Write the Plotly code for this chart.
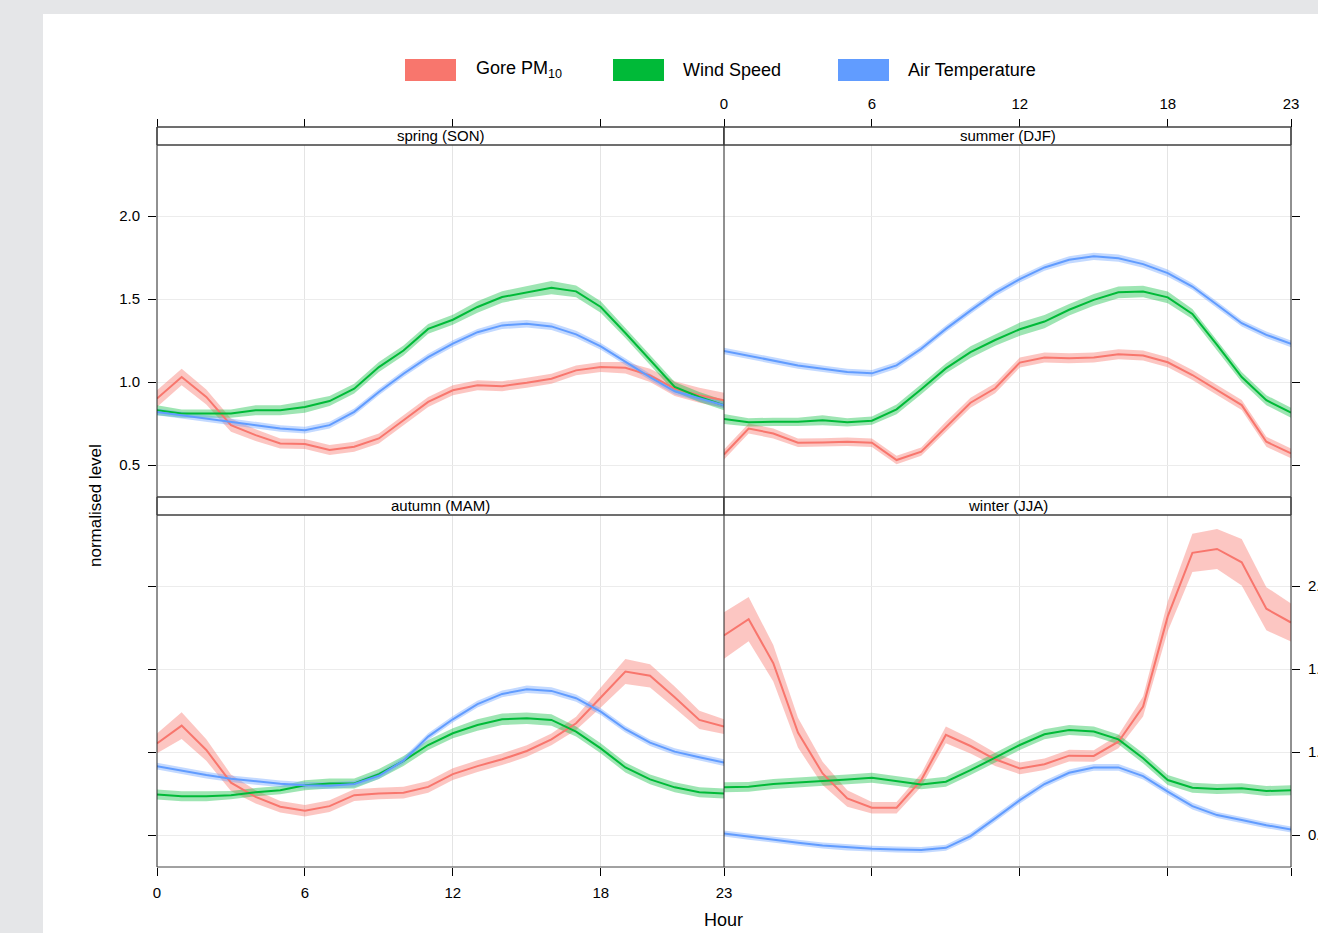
import plotly.graph_objects as go

W, H = 1318, 933

hours = list(range(24))
x_tick_vals = [0, 6, 12, 18, 23]
y_tick_vals = [0.5, 1.0, 1.5, 2.0]
series_names = ["Gore PM<sub>10</sub>", "Wind Speed", "Air Temperature"]
series_colors = ["#F8766D", "#00BA38", "#619CFF"]
band_colors = ["rgba(248,118,109,0.42)", "rgba(0,186,56,0.38)", "rgba(97,156,255,0.38)"]
season_labels = ["spring (SON)", "summer (DJF)", "autumn (MAM)", "winter (JJA)"]

# ---- mean values (normalised) ----
spring_pm = [0.90, 1.03, 0.91, 0.74, 0.68, 0.63, 0.627, 0.59, 0.61, 0.66, 0.77, 0.88,
             0.95, 0.98, 0.975, 0.995, 1.02, 1.07, 1.09, 1.086, 1.04, 0.96, 0.92, 0.89]
spring_ws = [0.83, 0.81, 0.81, 0.81, 0.83, 0.83, 0.85, 0.885, 0.96, 1.09, 1.19, 1.32,
             1.375, 1.452, 1.512, 1.542, 1.568, 1.546, 1.452, 1.295, 1.13, 0.97, 0.91, 0.86]
spring_at = [0.82, 0.80, 0.78, 0.76, 0.74, 0.72, 0.71, 0.74, 0.82, 0.94, 1.05, 1.15,
             1.231, 1.30, 1.341, 1.351, 1.335, 1.287, 1.215, 1.12, 1.03, 0.944, 0.90, 0.86]

summer_pm = [0.563, 0.72, 0.69, 0.634, 0.636, 0.64, 0.634, 0.53, 0.58, 0.73, 0.875, 0.962,
             1.117, 1.147, 1.143, 1.147, 1.167, 1.159, 1.119, 1.042, 0.952, 0.861, 0.64, 0.57]
summer_ws = [0.777, 0.757, 0.76, 0.76, 0.77, 0.757, 0.767, 0.835, 0.956, 1.082, 1.18, 1.253,
             1.318, 1.364, 1.435, 1.495, 1.54, 1.545, 1.51, 1.41, 1.223, 1.03, 0.89, 0.815]
summer_at = [1.187, 1.157, 1.129, 1.10, 1.08, 1.06, 1.052, 1.10, 1.20, 1.32, 1.43, 1.535,
             1.62, 1.69, 1.736, 1.757, 1.746, 1.71, 1.656, 1.575, 1.465, 1.354, 1.284, 1.23]

autumn_pm = [1.052, 1.159, 1.012, 0.815, 0.73, 0.67, 0.646, 0.674, 0.74, 0.75, 0.755, 0.79,
             0.867, 0.915, 0.956, 1.006, 1.076, 1.173, 1.328, 1.485, 1.459, 1.33, 1.193, 1.153]
autumn_ws = [0.744, 0.734, 0.734, 0.74, 0.758, 0.77, 0.80, 0.81, 0.81, 0.867, 0.946, 1.042,
             1.113, 1.163, 1.197, 1.203, 1.193, 1.123, 1.022, 0.907, 0.835, 0.787, 0.757, 0.75]
autumn_at = [0.915, 0.887, 0.861, 0.839, 0.823, 0.809, 0.80, 0.797, 0.807, 0.857, 0.948, 1.093,
             1.197, 1.288, 1.35, 1.378, 1.368, 1.324, 1.243, 1.137, 1.056, 1.002, 0.968, 0.936]

winter_pm = [1.702, 1.80, 1.535, 1.117, 0.871, 0.72, 0.664, 0.664, 0.831, 1.103, 1.036, 0.956,
             0.901, 0.926, 0.978, 0.976, 1.062, 1.274, 1.817, 2.20, 2.223, 2.143, 1.863, 1.78]
winter_ws = [0.787, 0.79, 0.807, 0.815, 0.825, 0.835, 0.845, 0.827, 0.805, 0.821, 0.891, 0.966,
             1.042, 1.107, 1.133, 1.123, 1.076, 0.962, 0.831, 0.785, 0.777, 0.781, 0.765, 0.77]
winter_at = [0.509, 0.489, 0.469, 0.453, 0.437, 0.425, 0.417, 0.413, 0.409, 0.423, 0.493, 0.60,
             0.71, 0.807, 0.875, 0.907, 0.907, 0.855, 0.761, 0.674, 0.62, 0.59, 0.559, 0.533]

# ---- confidence interval half-widths ----
spring_pm_ci = [0.05, 0.05, 0.045, 0.04, 0.035, 0.03, 0.03, 0.03, 0.03, 0.03, 0.03, 0.03,
                0.03, 0.03, 0.03, 0.03, 0.03, 0.03, 0.03, 0.035, 0.04, 0.045, 0.045, 0.045]
spring_ws_ci = [0.03, 0.025, 0.025, 0.025, 0.03, 0.03, 0.035, 0.03, 0.03, 0.03, 0.03, 0.03,
                0.03, 0.035, 0.035, 0.035, 0.04, 0.035, 0.035, 0.03, 0.03, 0.03, 0.03, 0.03]
spring_at_ci = [0.02, 0.02, 0.02, 0.02, 0.02, 0.02, 0.02, 0.02, 0.02, 0.02, 0.02, 0.02,
                0.02, 0.02, 0.022, 0.022, 0.022, 0.022, 0.02, 0.02, 0.02, 0.02, 0.02, 0.02]

summer_pm_ci = [0.03, 0.03, 0.03, 0.025, 0.025, 0.025, 0.025, 0.025, 0.025, 0.03, 0.03, 0.03,
                0.03, 0.03, 0.03, 0.03, 0.03, 0.03, 0.03, 0.03, 0.03, 0.03, 0.03, 0.03]
summer_ws_ci = [0.03, 0.025, 0.025, 0.025, 0.03, 0.025, 0.025, 0.03, 0.03, 0.03, 0.035, 0.035,
                0.04, 0.04, 0.035, 0.035, 0.035, 0.035, 0.035, 0.03, 0.03, 0.03, 0.03, 0.03]
summer_at_ci = [0.02, 0.02, 0.02, 0.02, 0.02, 0.02, 0.02, 0.02, 0.02, 0.02, 0.02, 0.02,
                0.02, 0.02, 0.022, 0.022, 0.022, 0.022, 0.022, 0.02, 0.02, 0.02, 0.02, 0.02]

autumn_pm_ci = [0.06, 0.08, 0.065, 0.05, 0.04, 0.035, 0.035, 0.035, 0.035, 0.035, 0.035, 0.035,
                0.035, 0.035, 0.035, 0.035, 0.035, 0.04, 0.06, 0.075, 0.07, 0.065, 0.055, 0.045]
autumn_ws_ci = [0.03, 0.03, 0.03, 0.025, 0.025, 0.025, 0.03, 0.03, 0.03, 0.03, 0.03, 0.03,
                0.03, 0.035, 0.035, 0.035, 0.035, 0.03, 0.03, 0.03, 0.03, 0.03, 0.03, 0.03]
autumn_at_ci = [0.02, 0.02, 0.02, 0.02, 0.02, 0.02, 0.02, 0.02, 0.02, 0.02, 0.02, 0.02,
                0.02, 0.02, 0.02, 0.022, 0.022, 0.022, 0.02, 0.02, 0.02, 0.02, 0.02, 0.02]

winter_pm_ci = [0.14, 0.133, 0.11, 0.09, 0.07, 0.05, 0.035, 0.035, 0.04, 0.05, 0.045, 0.04,
                0.035, 0.035, 0.035, 0.035, 0.04, 0.06, 0.09, 0.115, 0.12, 0.14, 0.13, 0.115]
winter_ws_ci = [0.03, 0.03, 0.03, 0.03, 0.03, 0.03, 0.03, 0.03, 0.03, 0.03, 0.03, 0.03,
                0.03, 0.03, 0.03, 0.03, 0.03, 0.03, 0.03, 0.03, 0.03, 0.03, 0.03, 0.03]
winter_at_ci = [0.018, 0.018, 0.018, 0.018, 0.018, 0.018, 0.018, 0.018, 0.018, 0.018, 0.02, 0.02,
                0.02, 0.02, 0.02, 0.02, 0.02, 0.02, 0.02, 0.02, 0.018, 0.018, 0.018, 0.018]

panels = [
    [(spring_pm, spring_pm_ci), (spring_ws, spring_ws_ci), (spring_at, spring_at_ci)],
    [(summer_pm, summer_pm_ci), (summer_ws, summer_ws_ci), (summer_at, summer_at_ci)],
    [(autumn_pm, autumn_pm_ci), (autumn_ws, autumn_ws_ci), (autumn_at, autumn_at_ci)],
    [(winter_pm, winter_pm_ci), (winter_ws, winter_ws_ci), (winter_at, winter_at_ci)],
]

# ---- layout geometry (pixels) ----
XL0, XM, XR1 = 157, 724, 1291
TOP_STRIP0, TOP_PLOT0, TOP_PLOT1 = 127, 145, 497
BOT_STRIP0, BOT_PLOT0, BOT_PLOT1 = 497, 515, 867
Y_RANGE = [0.3072, 2.4277]
PAGE_BG = "#E5E6E8"
CARD_X0, CARD_Y0 = 43, 14


def px(x):
    return x / W


def py(y):
    return 1 - y / H


FONT = "Liberation Sans, Arial, Helvetica, sans-serif"

fig = go.Figure()

axis_ids = ["", "2", "3", "4"]
for i, series in enumerate(panels):
    xa = "x" + axis_ids[i]
    ya = "y" + axis_ids[i]
    for (vals, ci), col, bcol, name in zip(series, series_colors, band_colors, series_names):
        upper = [v + c for v, c in zip(vals, ci)]
        lower = [v - c for v, c in zip(vals, ci)]
        fig.add_trace(go.Scatter(
            x=hours + hours[::-1], y=upper + lower[::-1],
            fill="toself", fillcolor=bcol, line=dict(width=0),
            mode="lines", hoverinfo="skip", showlegend=False,
            xaxis=xa, yaxis=ya))
    for (vals, ci), col, name in zip(series, series_colors, series_names):
        fig.add_trace(go.Scatter(
            x=hours, y=vals, mode="lines", name=name,
            line=dict(color=col, width=2), showlegend=False,
            xaxis=xa, yaxis=ya))

tickfont = dict(family=FONT, size=15, color="#000")
common_x = dict(range=[0, 23], tickvals=x_tick_vals, ticks="outside", ticklen=8,
                tickcolor="#000", tickwidth=1, showgrid=True, gridcolor="#e4e4e4",
                gridwidth=1, zeroline=False, showline=False, tickfont=tickfont,
                ticklabelstandoff=4, automargin=False)
common_y = dict(range=Y_RANGE, tickvals=y_tick_vals, tickformat=".1f", ticks="outside",
                ticklen=8, tickcolor="#000", tickwidth=1, showgrid=True,
                gridcolor="#ececec", gridwidth=1, zeroline=False, showline=False,
                tickfont=tickfont, ticklabelstandoff=5, automargin=False)

dom_xl = [px(XL0), px(XM)]
dom_xr = [px(XM), px(XR1)]
dom_yt = [py(TOP_PLOT1), py(TOP_PLOT0)]
dom_yb = [py(BOT_PLOT1), py(BOT_PLOT0)]

fig.update_layout(
    xaxis=dict(common_x, domain=dom_xl, anchor="free", position=py(TOP_STRIP0),
               side="top", showticklabels=False),
    xaxis2=dict(common_x, domain=dom_xr, anchor="free", position=py(TOP_STRIP0),
                side="top", showticklabels=True),
    xaxis3=dict(common_x, domain=dom_xl, anchor="y3", side="bottom", showticklabels=True),
    xaxis4=dict(common_x, domain=dom_xr, anchor="y4", side="bottom", showticklabels=False),
    yaxis=dict(common_y, domain=dom_yt, anchor="x", side="left", showticklabels=True),
    yaxis2=dict(common_y, domain=dom_yt, anchor="x2", side="right", showticklabels=False),
    yaxis3=dict(common_y, domain=dom_yb, anchor="x3", side="left", showticklabels=False),
    yaxis4=dict(common_y, domain=dom_yb, anchor="x4", side="right", showticklabels=True),
)

shapes = []
# page background: white card on grey
shapes.append(dict(type="rect", xref="paper", yref="paper", x0=px(CARD_X0), x1=1.0,
                   y0=0.0, y1=py(CARD_Y0), fillcolor="white", line=dict(width=0),
                   layer="below"))

# strips (white boxes)
for (s0, s1) in [(TOP_STRIP0, TOP_PLOT0), (BOT_STRIP0, BOT_PLOT0)]:
    for (a, b) in [(XL0, XM), (XM, XR1)]:
        shapes.append(dict(type="rect", xref="paper", yref="paper", x0=px(a), x1=px(b),
                           y0=py(s1), y1=py(s0), fillcolor="white",
                           line=dict(color="#333", width=1), layer="above"))

border = dict(color="#222", width=1)
for xv in [XL0, XM, XR1]:
    shapes.append(dict(type="line", xref="paper", yref="paper", x0=px(xv), x1=px(xv),
                       y0=py(BOT_PLOT1), y1=py(TOP_STRIP0), line=border, layer="above"))
for yv in [TOP_STRIP0, TOP_PLOT0, BOT_STRIP0, BOT_PLOT0, BOT_PLOT1]:
    shapes.append(dict(type="line", xref="paper", yref="paper", x0=px(XL0), x1=px(XR1),
                       y0=py(yv), y1=py(yv), line=dict(color="#444", width=1), layer="above"))

# legend keys
legend_boxes = [(405, 456), (613, 664), (838, 889)]
legend_text_x = [476, 683, 908]
for (a, b), col in zip(legend_boxes, series_colors):
    shapes.append(dict(type="rect", xref="paper", yref="paper", x0=px(a), x1=px(b),
                       y0=py(81), y1=py(59), fillcolor=col, line=dict(width=0)))

annotations = []
for tx, name in zip(legend_text_x, series_names):
    annotations.append(dict(xref="paper", yref="paper", x=px(tx - 2), y=py(70), text=name,
                            showarrow=False, xanchor="left", yanchor="middle",
                            font=dict(family=FONT, size=18, color="#000")))

strip_centres = [((XL0 + XM) / 2, (TOP_STRIP0 + TOP_PLOT0) / 2),
                 ((XM + XR1) / 2, (TOP_STRIP0 + TOP_PLOT0) / 2),
                 ((XL0 + XM) / 2, (BOT_STRIP0 + BOT_PLOT0) / 2),
                 ((XM + XR1) / 2, (BOT_STRIP0 + BOT_PLOT0) / 2)]
for (cx, cy), lab in zip(strip_centres, season_labels):
    annotations.append(dict(xref="paper", yref="paper", x=px(cx), y=py(cy), text=lab,
                            showarrow=False, xanchor="center", yanchor="middle",
                            font=dict(family=FONT, size=15, color="#000")))

annotations.append(dict(xref="paper", yref="paper", x=px(XM), y=py(920), text="Hour",
                        showarrow=False, xanchor="center", yanchor="middle",
                        font=dict(family=FONT, size=18, color="#000")))
annotations.append(dict(xref="paper", yref="paper", x=px(96), y=py(506),
                        text="normalised level", textangle=-90, showarrow=False,
                        xanchor="center", yanchor="middle",
                        font=dict(family=FONT, size=17, color="#000")))

fig.update_layout(
    width=W, height=H, autosize=False,
    margin=dict(l=0, r=0, t=0, b=0, pad=0, autoexpand=False),
    paper_bgcolor=PAGE_BG, plot_bgcolor="white",
    showlegend=False, shapes=shapes, annotations=annotations,
    font=dict(family=FONT, color="#000"),
)

page_js = ("document.documentElement.style.overflow='hidden';"
           "document.body.style.overflow='hidden';"
           "document.body.style.margin='0px';"
           "document.body.style.padding='0px';"
           "document.body.style.backgroundColor='" + PAGE_BG + "';")

fig.write_html("out.html", post_script=page_js,
               config={"responsive": False, "displayModeBar": False})
